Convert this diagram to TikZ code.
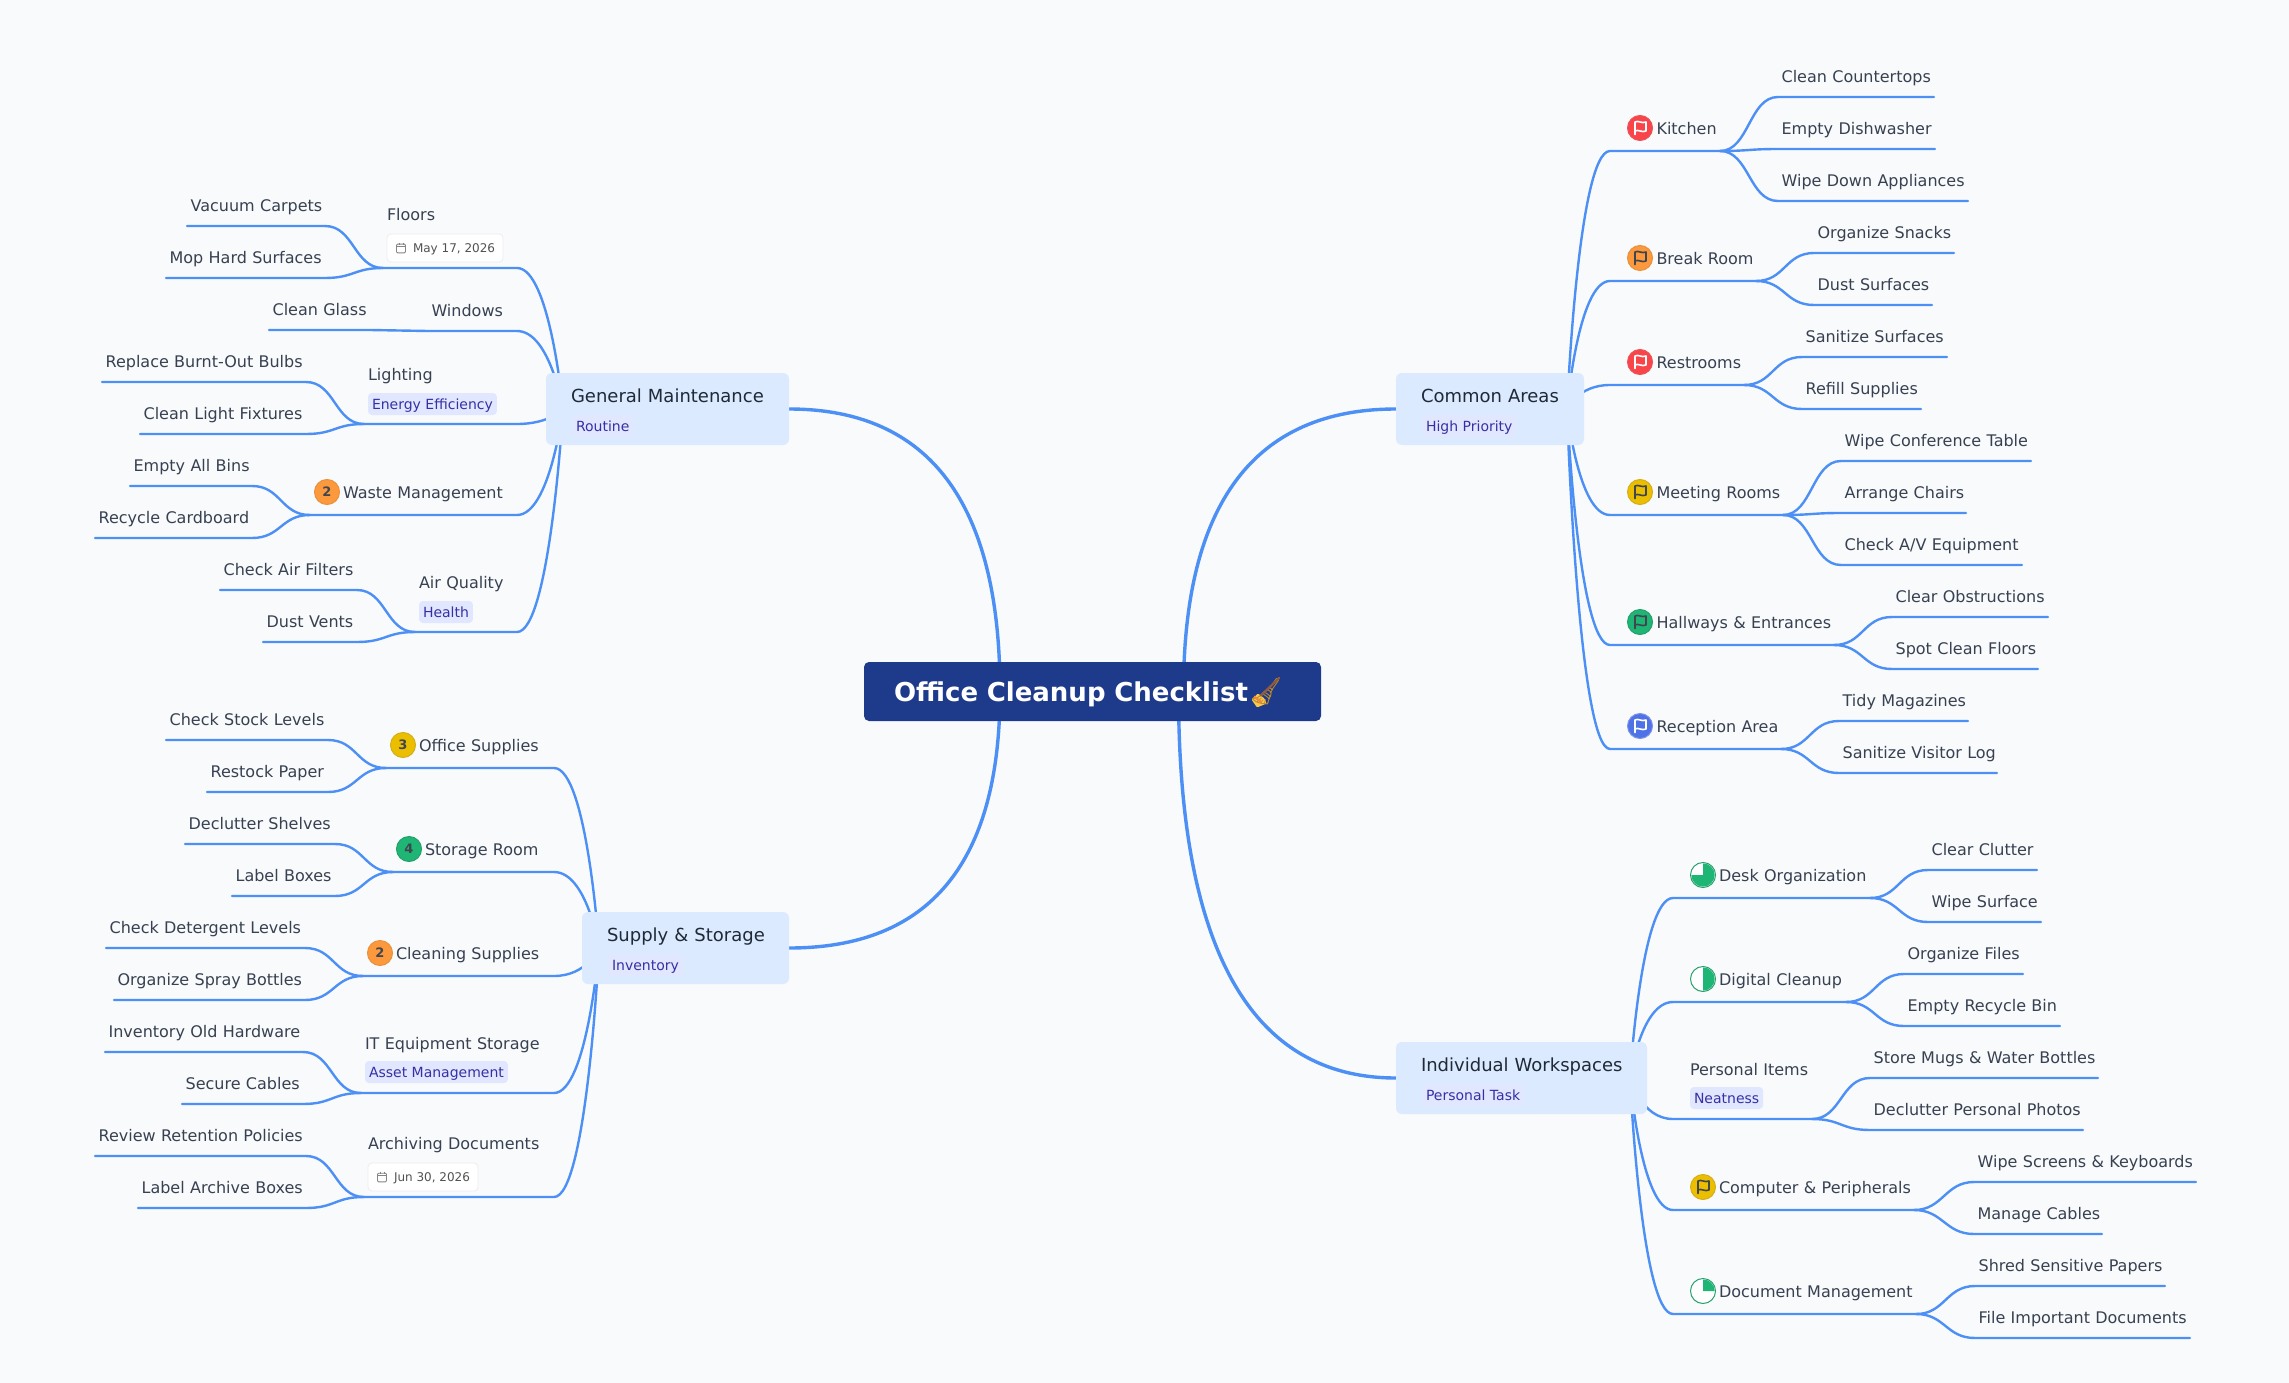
\documentclass[tikz,border=0pt]{standalone}
\usepackage{fontspec}
\setmainfont{DejaVu Sans}
\newfontfamily\emojifont{Noto Emoji}
\usetikzlibrary{calc,backgrounds}
\definecolor{bgc}{HTML}{F9FAFC}
\definecolor{linec}{HTML}{4D90F5}
\definecolor{rootc}{HTML}{1E3A8A}
\definecolor{boxc}{HTML}{DBEAFE}
\definecolor{tagc}{HTML}{E0E7FF}
\definecolor{tagt}{HTML}{3730A3}
\definecolor{txtc}{HTML}{374151}
\definecolor{ttlc}{HTML}{1F2937}
\definecolor{redi}{HTML}{F94449}
\definecolor{redb}{HTML}{E9545A}
\definecolor{orai}{HTML}{FB993C}
\definecolor{orab}{HTML}{E8913F}
\definecolor{yeli}{HTML}{EBBF00}
\definecolor{yelb}{HTML}{D4AE1A}
\definecolor{grni}{HTML}{1FB574}
\definecolor{grnb}{HTML}{24A06C}
\definecolor{blui}{HTML}{4F73E6}
\definecolor{blub}{HTML}{7C93E8}
\definecolor{darkf}{HTML}{3F4650}
\definecolor{brmy}{HTML}{F8C74E}
\definecolor{brmo}{HTML}{EE8A3C}
\definecolor{brmh}{HTML}{8F5B3E}
\definecolor{brmg}{HTML}{C08A2E}
\tikzset{
  x=1pt,y=-1pt,
  conn/.style={draw=linec,line width=2.4pt,line cap=round},
  rootconn/.style={draw=linec,line width=3.4pt},
  mmn/.style={anchor=west,inner xsep=0pt,outer sep=0pt,align=left,text height=11.7pt,text depth=0pt,text=txtc,font=\fontsize{16pt}{19pt}\selectfont},
  mainbox/.style={anchor=west,fill=boxc,rounded corners=6pt,inner xsep=0pt,inner ysep=0pt,outer sep=0pt,minimum height=72pt,align=left,text height=13.1pt,text depth=0pt,text=ttlc,font=\fontsize{18pt}{22pt}\selectfont},
  tagn/.style={anchor=west,fill=tagc,rounded corners=4pt,inner xsep=4pt,inner ysep=0pt,outer sep=0pt,minimum height=22pt,text height=10.2pt,text depth=0pt,text=tagt,font=\fontsize{14pt}{16pt}\selectfont},
  daten/.style={anchor=west,fill=white,draw=black!7,line width=.8pt,rounded corners=4pt,inner xsep=8pt,inner ysep=0pt,outer sep=0pt,minimum height=28pt,text height=8.8pt,text depth=0pt,text=black!68,font=\fontsize{12pt}{14pt}\selectfont},
  iconn/.style={circle,inner sep=0pt,outer sep=0pt,minimum size=25pt,line width=1pt},
  numn/.style={iconn,text=darkf,text height=9.5pt,text depth=0pt,font=\bfseries\fontsize{13pt}{15pt}\selectfont},
  rootn/.style={anchor=west,fill=rootc,rounded corners=5pt,inner xsep=0pt,inner ysep=0pt,outer sep=0pt,minimum height=59pt,align=left,text height=19pt,text depth=0pt,text=white,font=\bfseries\fontsize{26pt}{30pt}\selectfont},
}
% name, x1, x2, line y, distance text-to-line, text x, text
\newcommand{\mmnode}[7]{%
  \pgfmathsetmacro\mmw{#3-(#2)}\pgfmathsetmacro\mms{#6-(#2)}\pgfmathsetmacro\mmy{#5-5.85}%
  \node[mmn,text width=\mmw pt,inner ysep=\mmy pt] (#1) at (#2,#4-#5) {\mbox{\hspace{\mms pt}\smash{\raisebox{-1pt}{#7}}}};}
\newcommand{\leafn}[5]{\mmnode{#1}{#2}{#3}{#4}{21}{#2+3.6}{#5}}
\newcommand{\subR}[2]{\draw[conn] (#1.south east) .. controls +(29,0) and +(-29,0) .. (#2.south west) -- (#2.south east);}
\newcommand{\subL}[2]{\draw[conn] (#1.south west) .. controls +(-29,0) and +(29,0) .. (#2.south east) -- (#2.south west);}
\newcommand{\mainR}[2]{\draw[conn] (#1) .. controls (#1) and +(-32,0) .. (#2.south west) -- (#2.south east);}
\newcommand{\mainL}[2]{\draw[conn] (#1) .. controls (#1) and +(33,0) .. (#2.south east) -- (#2.south west);}
% name,x1,x2,yc,title,
\newcommand{\boxn}[5]{\pgfmathsetmacro\mmw{#3-(#2)}%
  \node[mainbox,text width=\mmw pt] (#1) at (#2,#4) {\mbox{\hspace{25pt}\smash{\raisebox{13.4pt}{#5}}}};}
% name,x,y,fill,border,fg
\newcommand{\flagi}[6]{\node[iconn,fill=#4,draw=#5] (#1) at (#2,#3) {};
  \begin{scope}[shift={(#2,#3)}]
    \draw[#6,line width=1.6pt,line cap=round,line join=round] (-5,6.5) -- (-5,-6) .. controls (-2,-8) and (2,-4) .. (6,-6) -- (6,3) .. controls (2,5) and (-2,1) .. (-5,3);
  \end{scope}}
% name,x,y,end angle
\newcommand{\piei}[4]{\node[iconn,fill=white,draw=grnb] (#1) at (#2,#3) {};
  \fill[grni] (#1.center) -- ([shift={(90:11.6pt)}]#1.center) arc[start angle=90,end angle=#4,radius=11.6pt] -- cycle;}
\newcommand{\calicon}[1]{\begin{scope}[shift={($(#1.west)+(14,0)$)}]
    \draw[black!48,line width=.9pt,rounded corners=1pt] (-4.5,-3.8) rectangle (4.5,4.8);
    \draw[black!48,line width=.9pt] (-4.5,-1.2) -- (4.5,-1.2) (-2,-5.3) -- (-2,-3) (2,-5.3) -- (2,-3);
  \end{scope}}
\begin{document}
\begin{tikzpicture}
\useasboundingbox (0,0) rectangle (2289,1383);
% root
\node[rootn,text width=457pt] (root) at (864,691.5) {\mbox{\hspace{30pt}Office Cleanup Checklist}};
% broom colours under the emoji glyph
\fill[brmy,rounded corners=1pt] (1251.5,699.5) -- (1258,693.5) -- (1264.5,698.5) -- (1266.5,703.5) -- (1257,707.5) -- cycle;
\node[anchor=west,inner sep=0pt,outer sep=0pt,text=brmg,font=\emojifont\fontsize{26pt}{26pt}\selectfont] (broom) at (1249,691.5) {🧹};
\draw[brmo,line width=2.2pt] (1254,696.5) -- (1261,702);
\draw[brmh,line width=2.2pt,line cap=round] (1279,678) -- (1261,695.5);
% main boxes
\boxn{gm}{546}{789}{409}{General Maintenance}
\boxn{ca}{1396}{1584}{409}{Common Areas}
\boxn{sup}{582}{789}{948}{Supply \& Storage}
\boxn{iw}{1396}{1647}{1078}{Individual Workspaces}
\node[tagn] (gmtag) at (572,426) {Routine};
\node[tagn] (catag) at (1422,426) {High Priority};
\node[tagn] (suptag) at (608,965) {Inventory};
\node[tagn] (iwtag) at (1422,1095) {Personal Task};
\coordinate (casrc) at ($(ca.east)+(-17,0)$);
\coordinate (iwsrc) at ($(iw.east)+(-17,0)$);
\coordinate (gmsrc) at ($(gm.west)+(17,0)$);
\coordinate (supsrc) at ($(sup.west)+(17,0)$);
% ---------- Common Areas
\mmnode{kitchen}{1610}{1720}{151}{23}{1656.5}{Kitchen}
\mmnode{breakroom}{1610}{1756}{281}{23}{1656.5}{Break Room}
\mmnode{restrooms}{1610}{1744}{385}{23}{1656.5}{Restrooms}
\mmnode{meeting}{1610}{1783}{515}{23}{1656.5}{Meeting Rooms}
\mmnode{hallways}{1610}{1834}{645}{23}{1656.5}{Hallways \& Entrances}
\mmnode{reception}{1610}{1781}{749}{23}{1656.5}{Reception Area}
\flagi{ikit}{1640}{128}{redi}{redb}{white}
\flagi{ibrk}{1640}{258}{orai}{orab}{darkf}
\flagi{ires}{1640}{362}{redi}{redb}{white}
\flagi{imee}{1640}{492}{yeli}{yelb}{darkf}
\flagi{ihal}{1640}{622}{grni}{grnb}{darkf}
\flagi{irec}{1640}{726}{blui}{blub}{white}
\leafn{c1}{1778}{1934}{97}{Clean Countertops}
\leafn{c2}{1778}{1935}{149}{Empty Dishwasher}
\leafn{c3}{1778}{1968}{201}{Wipe Down Appliances}
\leafn{c4}{1814}{1954}{253}{Organize Snacks}
\leafn{c5}{1814}{1932}{305}{Dust Surfaces}
\leafn{c6}{1802}{1947}{357}{Sanitize Surfaces}
\leafn{c7}{1802}{1921}{409}{Refill Supplies}
\leafn{c8}{1841}{2031}{461}{Wipe Conference Table}
\leafn{c9}{1841}{1966}{513}{Arrange Chairs}
\leafn{c10}{1841}{2022}{565}{Check A/V Equipment}
\leafn{c11}{1892}{2048}{617}{Clear Obstructions}
\leafn{c12}{1892}{2038}{669}{Spot Clean Floors}
\leafn{c13}{1839}{1968}{721}{Tidy Magazines}
\leafn{c14}{1839}{1997}{773}{Sanitize Visitor Log}
% ---------- Individual Workspaces
\mmnode{desk}{1673}{1870}{898}{23}{1719}{Desk Organization}
\mmnode{digital}{1673}{1846}{1002}{23}{1719}{Digital Cleanup}
\mmnode{personal}{1673}{1812}{1119}{50}{1690}{Personal Items}
\mmnode{computer}{1673}{1914}{1210}{23}{1719}{Computer \& Peripherals}
\mmnode{document}{1673}{1916}{1314}{23}{1719}{Document Management}
\piei{idesk}{1703}{875}{-180}
\piei{idig}{1703}{979}{-90}
\flagi{icomp}{1703}{1187}{yeli}{yelb}{darkf}
\piei{idoc}{1703}{1291}{0}
\node[tagn] (neat) at (1690,1098) {Neatness};
\leafn{i1}{1928}{2037}{870}{Clear Clutter}
\leafn{i2}{1928}{2041}{922}{Wipe Surface}
\leafn{i3}{1904}{2023}{974}{Organize Files}
\leafn{i4}{1904}{2060}{1026}{Empty Recycle Bin}
\leafn{i5}{1870}{2098}{1078}{Store Mugs \& Water Bottles}
\leafn{i6}{1870}{2083}{1130}{Declutter Personal Photos}
\leafn{i7}{1974}{2196}{1182}{Wipe Screens \& Keyboards}
\leafn{i8}{1974}{2102}{1234}{Manage Cables}
\leafn{i9}{1975}{2165}{1286}{Shred Sensitive Papers}
\leafn{i10}{1975}{2190}{1338}{File Important Documents}
% ---------- General Maintenance
\mmnode{floors}{383}{517}{268}{54}{387}{Floors}
\mmnode{windows}{428}{517}{331}{21}{431.5}{Windows}
\mmnode{lighting}{364}{517}{424}{50}{368}{Lighting}
\mmnode{waste}{310}{517}{515}{23}{343}{Waste Management}
\mmnode{airq}{415}{517}{632}{50}{419}{Air Quality}
\node[daten] (fdate) at (387,248) {\hspace{18pt}May 17, 2026};
\calicon{fdate}
\node[tagn] (ltag) at (368,404) {Energy Efficiency};
\node[numn,fill=orai,draw=orab] (iwaste) at (327,492) {2};
\node[tagn] (atag) at (419,612) {Health};
\leafn{g1}{187}{325}{226}{Vacuum Carpets}
\leafn{g2}{166}{325}{278}{Mop Hard Surfaces}
\leafn{g3}{269}{370}{330}{Clean Glass}
\leafn{g4}{102}{306}{382}{Replace Burnt-Out Bulbs}
\leafn{g5}{140}{306}{434}{Clean Light Fixtures}
\leafn{g6}{130}{252}{486}{Empty All Bins}
\leafn{g7}{95}{252}{538}{Recycle Cardboard}
\leafn{g8}{220}{357}{590}{Check Air Filters}
\leafn{g9}{263}{357}{642}{Dust Vents}
% ---------- Supply & Storage
\mmnode{office}{386}{554}{768}{23}{419}{Office Supplies}
\mmnode{storage}{393}{554}{872}{23}{425}{Storage Room}
\mmnode{cleaning}{363}{554}{976}{23}{396}{Cleaning Supplies}
\mmnode{itstore}{361}{554}{1093}{50}{365}{IT Equipment Storage}
\mmnode{archive}{364}{554}{1197}{54}{368}{Archiving Documents}
\node[numn,fill=yeli,draw=yelb] (ioff) at (403,745) {3};
\node[numn,fill=grni,draw=grnb] (isto) at (409,849) {4};
\node[numn,fill=orai,draw=orab] (icle) at (380,953) {2};
\node[tagn] (ittag) at (365,1072) {Asset Management};
\node[daten] (adate) at (368,1177) {\hspace{18pt}Jun 30, 2026};
\calicon{adate}
\leafn{s1}{166}{328}{740}{Check Stock Levels}
\leafn{s2}{207}{328}{792}{Restock Paper}
\leafn{s3}{185}{335}{844}{Declutter Shelves}
\leafn{s4}{232}{335}{896}{Label Boxes}
\leafn{s5}{106}{305}{948}{Check Detergent Levels}
\leafn{s6}{114}{305}{1000}{Organize Spray Bottles}
\leafn{s7}{105}{303}{1052}{Inventory Old Hardware}
\leafn{s8}{182}{303}{1104}{Secure Cables}
\leafn{s9}{95}{306}{1156}{Review Retention Policies}
\leafn{s10}{138}{306}{1208}{Label Archive Boxes}
% ---------- connectors
\begin{scope}[on background layer]
\fill[bgc] (0,0) rectangle (2289,1383);
\draw[rootconn] (gm.east) .. controls +(140.7,0) and +(0,-188) .. ($(root.center)+(-92.5,0)$);
\draw[rootconn] (ca.west) .. controls +(-141.7,0) and +(0,-188) .. ($(root.center)+(91,0)$);
\draw[rootconn] (sup.east) .. controls +(140.7,0) and +(0,171.3) .. ($(root.center)+(-92.5,0)$);
\draw[rootconn] (iw.west) .. controls +(-145,0) and +(0,258) .. ($(root.center)+(86,0)$);
\mainR{casrc}{kitchen}\mainR{casrc}{breakroom}\mainR{casrc}{restrooms}\mainR{casrc}{meeting}\mainR{casrc}{hallways}\mainR{casrc}{reception}
\mainR{iwsrc}{desk}\mainR{iwsrc}{digital}\mainR{iwsrc}{personal}\mainR{iwsrc}{computer}\mainR{iwsrc}{document}
\mainL{gmsrc}{floors}\mainL{gmsrc}{windows}\mainL{gmsrc}{lighting}\mainL{gmsrc}{waste}\mainL{gmsrc}{airq}
\mainL{supsrc}{office}\mainL{supsrc}{storage}\mainL{supsrc}{cleaning}\mainL{supsrc}{itstore}\mainL{supsrc}{archive}
\subR{kitchen}{c1}\subR{kitchen}{c2}\subR{kitchen}{c3}
\subR{breakroom}{c4}\subR{breakroom}{c5}
\subR{restrooms}{c6}\subR{restrooms}{c7}
\subR{meeting}{c8}\subR{meeting}{c9}\subR{meeting}{c10}
\subR{hallways}{c11}\subR{hallways}{c12}
\subR{reception}{c13}\subR{reception}{c14}
\subR{desk}{i1}\subR{desk}{i2}
\subR{digital}{i3}\subR{digital}{i4}
\subR{personal}{i5}\subR{personal}{i6}
\subR{computer}{i7}\subR{computer}{i8}
\subR{document}{i9}\subR{document}{i10}
\subL{floors}{g1}\subL{floors}{g2}
\subL{windows}{g3}
\subL{lighting}{g4}\subL{lighting}{g5}
\subL{waste}{g6}\subL{waste}{g7}
\subL{airq}{g8}\subL{airq}{g9}
\subL{office}{s1}\subL{office}{s2}
\subL{storage}{s3}\subL{storage}{s4}
\subL{cleaning}{s5}\subL{cleaning}{s6}
\subL{itstore}{s7}\subL{itstore}{s8}
\subL{archive}{s9}\subL{archive}{s10}
\end{scope}
\end{tikzpicture}
\end{document}
